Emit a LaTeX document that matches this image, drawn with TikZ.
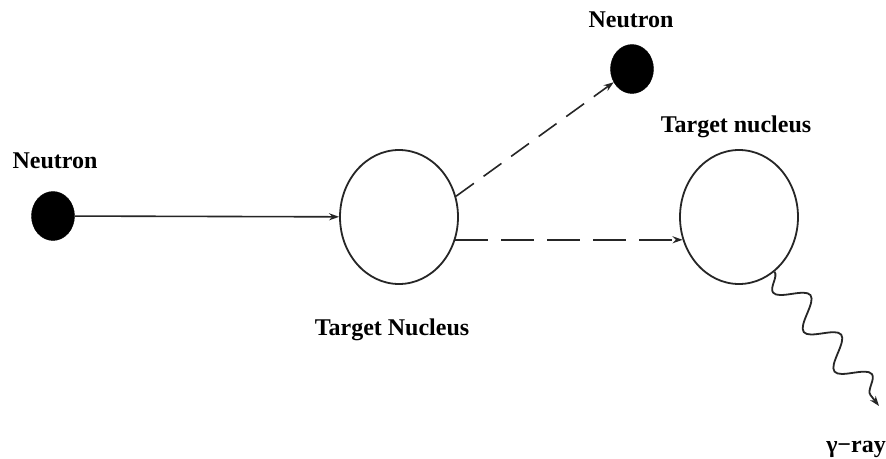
\documentclass[tikz,border=0pt]{standalone}
\usepackage{fontspec}
\setmainfont{Liberation Serif}
\usetikzlibrary{shapes.geometric,arrows.meta,decorations.pathmorphing}
\begin{document}
\begin{tikzpicture}[x=1pt,y=-1pt,
  lbl/.style={font=\fontsize{24}{28}\selectfont\bfseries, inner sep=0pt, anchor=base},
  neutron/.style={ellipse, fill=black, draw=black, minimum width=43pt, minimum height=49pt, inner sep=0pt},
  nucleus/.style={ellipse, draw=black!85, line width=1.8pt, fill=white, minimum width=118pt, minimum height=134pt, inner sep=0pt},
  tip/.style={-{Stealth[length=10pt,width=7pt]}},
  conn/.style={line width=1.6pt, draw=black!85}
]
\useasboundingbox (0,0) rectangle (886,458);
\fill[white] (0,0) rectangle (886,458);

\node[neutron] (n1) at (53,216) {};
\node[nucleus] (tn1) at (399,217) {};
\node[neutron] (n2) at (632,69) {};
\node[nucleus] (tn2) at (739,217) {};

\node[lbl] (l1) at (55,168) {Neutron};
\node[lbl] (l2) at (631,27) {Neutron};
\node[lbl] (l3) at (392,335) {Target Nucleus};
\node[lbl] (l4) at (736,132) {Target nucleus};
\node[lbl, anchor=base east] (l5) at (886,452) {γ−ray};

\coordinate (gend) at (879,406);

\draw[conn, tip] (n1) -- (tn1);
\draw[conn, tip, dash pattern=on 22pt off 12pt] (tn1.20) -- (n2);
\draw[conn, tip, line width=2.4pt, dash pattern=on 33pt off 13pt] (tn1.-22) -- (tn2.202);
\draw[conn, line width=1.8pt, tip, decorate,
  decoration={snake, amplitude=-14pt, segment length=50pt, post length=10pt}] (tn2.-57) -- (gend);
\end{tikzpicture}
\end{document}
